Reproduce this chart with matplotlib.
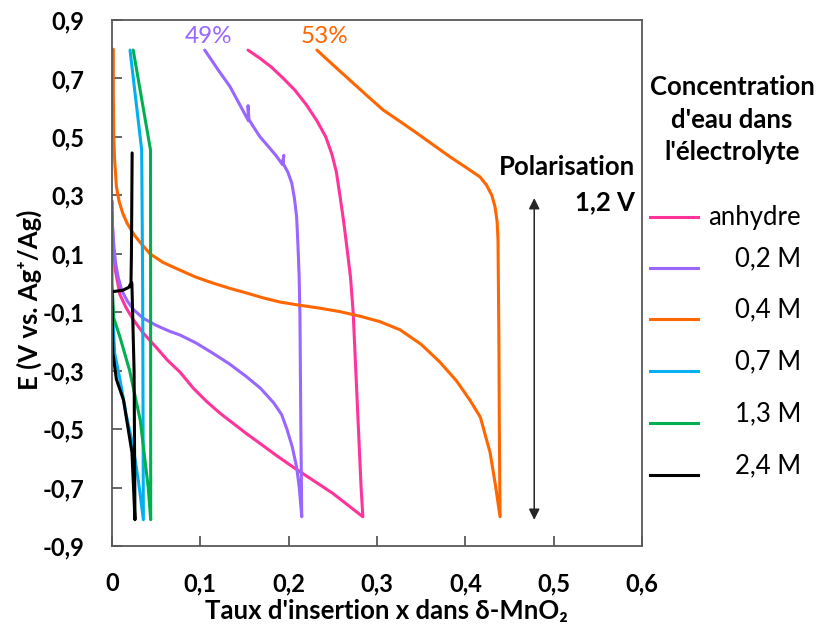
import matplotlib
matplotlib.use('Agg')
import matplotlib.pyplot as plt
from matplotlib.lines import Line2D

plt.rcParams['font.family'] = ['Lato', 'DejaVu Sans']

# DATA  (x = taux d'insertion, E = potentiel en V vs Ag+/Ag)
x_anhydre = [0, 0.0005, 0.0015, 0.004, 0.009, 0.016, 0.024, 0.035, 0.05, 0.063, 0.077, 0.092, 0.107,
             0.122, 0.137, 0.152, 0.168, 0.186, 0.205, 0.22, 0.235, 0.25, 0.267, 0.284,
             0.282, 0.279, 0.276, 0.273, 0.270, 0.266, 0.262, 0.258, 0.254, 0.249, 0.242, 0.232,
             0.22, 0.207, 0.194, 0.18, 0.167, 0.154]
E_anhydre = [0.28, 0.2, 0.12, 0.04, -0.04, -0.085, -0.125, -0.17, -0.22, -0.265, -0.305, -0.36, -0.405,
             -0.445, -0.48, -0.515, -0.55, -0.59, -0.63, -0.66, -0.69, -0.72, -0.76, -0.80,
             -0.70, -0.50, -0.30, -0.10, 0.02, 0.12, 0.216, 0.30, 0.38, 0.44, 0.50, 0.555,
             0.61, 0.66, 0.70, 0.74, 0.77, 0.797]

x_02 = [0, 0.0005, 0.002, 0.004, 0.007, 0.011, 0.017, 0.024, 0.035, 0.05, 0.065, 0.077, 0.095, 0.114,
        0.133, 0.152, 0.168, 0.183, 0.192, 0.198, 0.204, 0.209, 0.212, 0.2148,
        0.2138, 0.2128, 0.2118, 0.2105, 0.209, 0.2065, 0.2035, 0.199, 0.1935, 0.1945, 0.193, 0.186,
        0.179, 0.1676, 0.16, 0.155, 0.154, 0.1545, 0.1336, 0.12, 0.105]
E_02 = [0.28, 0.2, 0.13, 0.07, 0.02, -0.025, -0.06, -0.09, -0.12, -0.145, -0.165, -0.178, -0.205, -0.24,
        -0.277, -0.32, -0.36, -0.41, -0.45, -0.50, -0.56, -0.63, -0.70, -0.80,
        -0.50, -0.115, 0.03, 0.13, 0.227, 0.29, 0.342, 0.38, 0.41, 0.437, 0.405, 0.435,
        0.46, 0.50, 0.535, 0.56, 0.607, 0.555, 0.672, 0.73, 0.797]

x_04 = [0.0015, 0.0015, 0.002, 0.003, 0.005, 0.008, 0.012, 0.017, 0.025, 0.033, 0.043, 0.058, 0.077,
        0.095, 0.114, 0.133, 0.152, 0.17, 0.19, 0.212, 0.235, 0.258, 0.28, 0.303, 0.326, 0.35, 0.371,
        0.39, 0.405, 0.417, 0.428, 0.434, 0.4393,
        0.4385, 0.438, 0.437, 0.436, 0.4336, 0.430, 0.424, 0.4166, 0.40, 0.383, 0.364, 0.345, 0.326,
        0.307, 0.288, 0.269, 0.25, 0.232]
E_04 = [0.80, 0.65, 0.50, 0.42, 0.33, 0.28, 0.24, 0.205, 0.165, 0.135, 0.10, 0.07, 0.044,
        0.02, 0.0, -0.018, -0.034, -0.05, -0.065, -0.076, -0.086, -0.098, -0.113, -0.132, -0.16, -0.21, -0.27,
        -0.335, -0.40, -0.459, -0.58, -0.69, -0.80,
        -0.50, -0.20, 0.147, 0.21, 0.261, 0.30, 0.335, 0.363, 0.397, 0.431, 0.472, 0.513, 0.553,
        0.592, 0.643, 0.695, 0.747, 0.797]

x_07 = [0, 0.001, 0.003, 0.009, 0.016, 0.024, 0.030, 0.0355, 0.0347, 0.0336, 0.0204]
E_07 = [-0.02, -0.12, -0.24, -0.33, -0.45, -0.56, -0.68, -0.81, 0.0, 0.455, 0.797]

x_13 = [0, 0.0, 0.002, 0.009, 0.02, 0.032, 0.041, 0.0438, 0.0437, 0.0436, 0.024]
E_13 = [0.23, 0.0, -0.12, -0.185, -0.30, -0.47, -0.70, -0.81, 0.0, 0.455, 0.797]

x_24 = [0.0228, 0.022, 0.0215, 0.019, 0.012, 0.0, 0.001, 0.005, 0.013, 0.0226, 0.026, 0.025, 0.0225]
E_24 = [0.445, 0.1, 0.0, -0.015, -0.025, -0.03, -0.24, -0.33, -0.40, -0.58, -0.81, -0.30, 0.0]

series = [(x_anhydre, E_anhydre), (x_02, E_02), (x_04, E_04), (x_07, E_07), (x_13, E_13), (x_24, E_24)]
labels = ['anhydre', '0,2 M', '0,4 M', '0,7 M', '1,3 M', '2,4 M']
colors = ['#FF3399', '#9966FF', '#FF6600', '#00B0F0', '#00B050', '#000000']

xticks = [0, 0.1, 0.2, 0.3, 0.4, 0.5, 0.6]
xticklabels = ['0', '0,1', '0,2', '0,3', '0,4', '0,5', '0,6']
yticks = [-0.9, -0.7, -0.5, -0.3, -0.1, 0.1, 0.3, 0.5, 0.7, 0.9]
yticklabels = ['-0,9', '-0,7', '-0,5', '-0,3', '-0,1', '0,1', '0,3', '0,5', '0,7', '0,9']

W, H = 819, 630
fig = plt.figure(figsize=(W / 100, H / 100), dpi=100)
ax = fig.add_axes([112 / W, 1 - 546 / H, 530 / W, 526 / H])

for (xs, es), c in zip(series, colors):
    ax.plot(xs, es, color=c, lw=2.2, solid_joinstyle='round', solid_capstyle='round')

ax.set_xlim(0, 0.6)
ax.set_ylim(-0.9, 0.9)
ax.set_xticks(xticks)
ax.set_xticklabels(xticklabels)
ax.set_yticks(yticks)
ax.set_yticklabels(yticklabels)
for s in ax.spines.values():
    s.set_color('#595959')
    s.set_linewidth(1.3)
ax.tick_params(direction='in', length=7, width=1.3, color='#595959', labelsize=17)
ax.tick_params(axis='x', pad=19)
ax.tick_params(axis='y', pad=20)
for t in ax.get_xticklabels() + ax.get_yticklabels():
    t.set_fontweight('bold')

# titres des axes
fig.text(29 / W, 1 - 300 / H, 'E (V vs. Ag\u207a/Ag)', rotation=90, ha='center', va='center',
         fontsize=18.5, fontweight='bold')
fig.text(386 / W, 1 - 611 / H, 'Taux d\'insertion x dans \u03b4-MnO\u2082', ha='center', va='center',
         fontsize=18.5, fontweight='bold')

# annotations
ax.text(0.109, 0.845, '49%', color='#9966FF', fontsize=17.5, ha='center', va='center')
ax.text(0.241, 0.845, '53%', color='#FF6600', fontsize=17.5, ha='center', va='center')
ax.annotate('', xy=(0.478, 0.30), xytext=(0.478, -0.82),
            arrowprops=dict(arrowstyle='<|-|>', color='#262626', lw=1.1, mutation_scale=16))
ax.text(0.592, 0.397, 'Polarisation', fontsize=18.5, fontweight='bold', ha='right', va='center')
ax.text(0.592, 0.277, '1,2 V', fontsize=18.5, fontweight='bold', ha='right', va='center')

# legende
for i, line in enumerate(['Concentration', 'd\'eau dans', 'l\'\u00e9lectrolyte']):
    fig.text(732 / W, 1 - (87 + 32.5 * i) / H, line, ha='center', va='center', fontsize=18.5, fontweight='bold')
line_y = [217, 268, 319, 371, 423, 475]
text_y = [217, 259, 310, 362, 414, 466]
for lab, c, ly, ty in zip(labels, colors, line_y, text_y):
    fig.add_artist(Line2D([650 / W, 698 / W], [1 - ly / H, 1 - ly / H], color=c, lw=2.2))
    fig.text(801 / W, 1 - ty / H, lab, ha='right', va='center', fontsize=18.5)

plt.savefig('out.png', dpi=100)
